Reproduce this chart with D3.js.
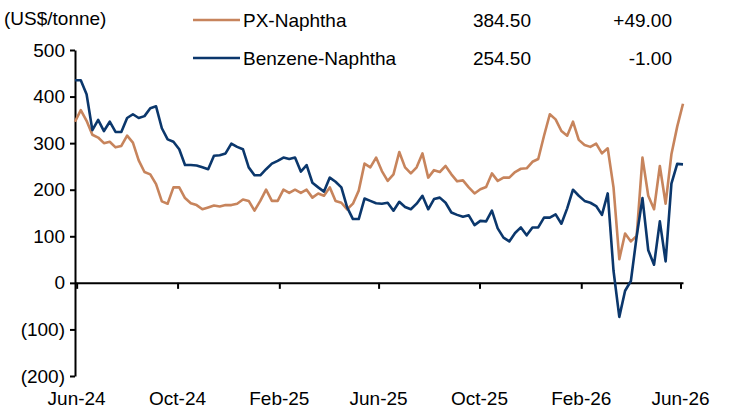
<!DOCTYPE html>
<html>
<head>
<meta charset="utf-8">
<script src="https://cdn.jsdelivr.net/npm/d3@7"></script>
<style>
  body { margin: 0; background: #fff; }
  svg text { font-family: "Liberation Sans", Arial, sans-serif; fill: #000; }
</style>
</head>
<body>
<svg id="chart" width="729" height="412"></svg>
<script>
// weekly spreads, US$/tonne
const startDate = new Date(2024, 4, 30);
const pxNaphtha = [346, 371, 348, 318, 312, 300, 303, 291, 294, 316, 301, 263, 238, 233, 212, 175, 170, 205, 205, 182,
  171, 167, 158, 162, 166, 164, 167, 167, 170, 179, 176, 155, 176, 200, 176, 176, 200, 193, 200, 193,
  200, 183, 192, 187, 205, 176, 172, 158, 170, 198, 256, 248, 269, 240, 219, 233, 281, 248, 235, 248,
  278, 226, 242, 238, 251, 233, 218, 220, 205, 192, 201, 206, 235, 219, 226, 226, 238, 245, 246, 260,
  266, 316, 362, 351, 326, 316, 346, 307, 296, 292, 299, 278, 289, 205, 51, 106, 89, 101, 269, 187,
  158, 251, 170, 276, 335.5, 384.5];
const benzeneNaphtha = [435, 435, 405, 328, 350, 326, 346, 324, 324, 354, 362, 354, 358, 375, 379, 332, 308, 303, 287, 253,
  253, 252, 248, 244, 273, 274, 278, 299, 292, 287, 248, 231, 231, 244, 256, 262, 269, 266, 269, 239,
  253, 215, 205, 196, 226, 217, 205, 162, 137, 137, 181, 176, 171, 170, 172, 155, 174, 163, 158, 170,
  187, 158, 180, 183, 172, 151, 146, 142, 145, 124, 133, 132, 155, 117, 97, 89, 107, 119, 102, 119,
  119, 140, 140, 147, 127, 160, 200, 187, 176, 172, 165, 146, 192, 26, -73, -17, 4, 100, 182, 70,
  39, 132, 46, 213, 255.5, 254.5];
const seriesNames = ['PX-Naphtha', 'Benzene-Naphtha'];
const lastValues = ['384.50', '254.50'];
const changes = ['+49.00', '-1.00'];
const colors = ['#c7845c', '#0b376c'];
const xTickDates = ['2024-06-01', '2024-10-01', '2025-02-01', '2025-06-01', '2025-10-01', '2026-02-01', '2026-06-01'];
const xTickLabels = ['Jun-24', 'Oct-24', 'Feb-25', 'Jun-25', 'Oct-25', 'Feb-26', 'Jun-26'];
const yTicks = [500, 400, 300, 200, 100, 0, -100, -200];

const svg = d3.select('#chart');
const FS = 19;
const dates = pxNaphtha.map((_, i) => d3.timeDay.offset(startDate, 7 * i));
const x = d3.scaleTime().domain([dates[0], dates[dates.length - 1]]).range([75, 683]);
const y = d3.scaleLinear().domain([-200, 500]).range([376, 50]);
const fmt = v => v < 0 ? `(${-v})` : `${v}`;

// y axis
const yAxis = svg.append('g').attr('transform', 'translate(75,0)')
  .call(d3.axisLeft(y).tickValues(yTicks).tickFormat(fmt).tickSize(5).tickSizeOuter(0));
yAxis.select('.domain').attr('stroke', '#000').attr('stroke-width', 2);
yAxis.selectAll('.tick line').attr('stroke', '#000').attr('stroke-width', 2);
yAxis.selectAll('.tick text').attr('x', -10).attr('font-size', FS);

// x axis at zero, labels along bottom
const tickD = xTickDates.map(d => d3.isoParse(d));
const xAxis = svg.append('g').attr('transform', `translate(0,${y(0)})`)
  .call(d3.axisBottom(x).tickValues(tickD).tickFormat('').tickSize(6).tickSizeOuter(0));
xAxis.select('.domain').attr('stroke', '#000').attr('stroke-width', 2);
xAxis.selectAll('.tick line').attr('stroke', '#000').attr('stroke-width', 2);
svg.append('g').selectAll('text').data(tickD).join('text')
  .attr('x', d => x(d)).attr('y', 405).attr('text-anchor', 'middle')
  .attr('font-size', FS).text((d, i) => xTickLabels[i]);

// lines
const line = d3.line().x((d, i) => x(dates[i])).y(d => y(d));
[pxNaphtha, benzeneNaphtha].forEach((s, k) => {
  svg.append('path').attr('d', line(s)).attr('fill', 'none')
    .attr('stroke', colors[k]).attr('stroke-width', 2.6).attr('stroke-linejoin', 'round');
});

// unit + legend
svg.append('text').attr('x', 4).attr('y', 25).attr('font-size', FS).text('(US$/tonne)');
seriesNames.forEach((n, k) => {
  const ly = 20 + k * 38;
  svg.append('line').attr('x1', 193).attr('x2', 240).attr('y1', ly).attr('y2', ly)
    .attr('stroke', colors[k]).attr('stroke-width', 2.6);
  svg.append('text').attr('x', 243).attr('y', ly + 7).attr('font-size', FS).text(n);
  svg.append('text').attr('x', 531).attr('y', ly + 7).attr('font-size', FS)
    .attr('text-anchor', 'end').text(lastValues[k]);
  svg.append('text').attr('x', 672).attr('y', ly + 7).attr('font-size', FS)
    .attr('text-anchor', 'end').text(changes[k]);
});
</script>
</body>
</html>
